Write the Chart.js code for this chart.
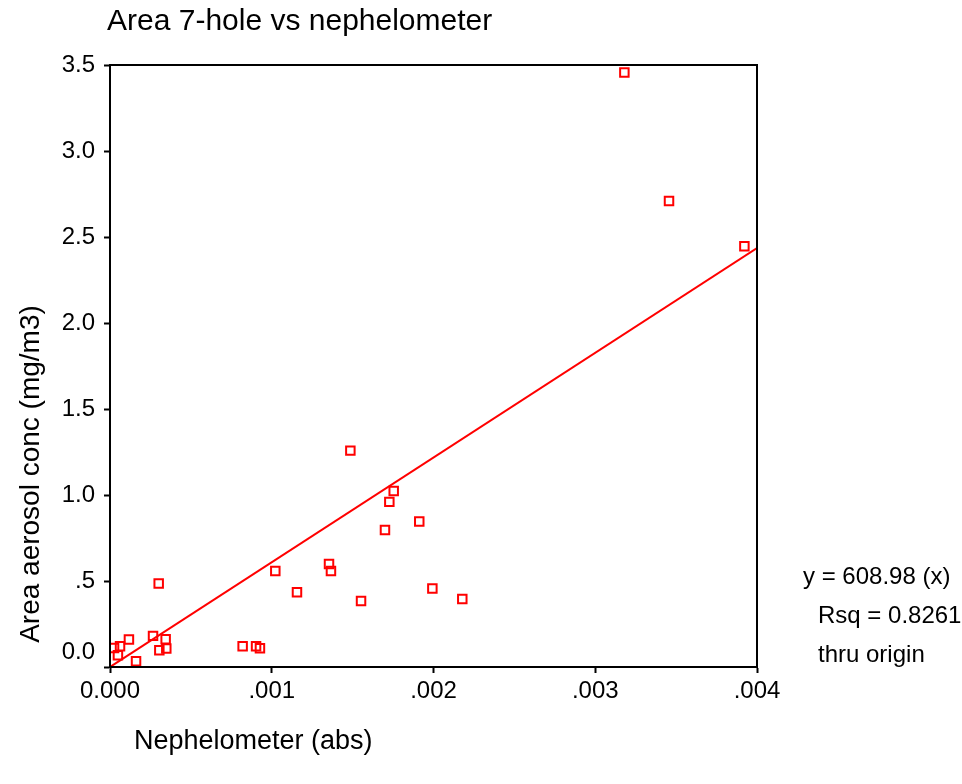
<!DOCTYPE html>
<html>
<head>
<meta charset="utf-8">
<title>Area 7-hole vs nephelometer</title>
<script src="https://cdn.jsdelivr.net/npm/chart.js@4.4.1/dist/chart.umd.min.js"></script>
<style>
  html, body { margin: 0; padding: 0; background: #fff; }
  #wrap { width: 962px; height: 784px; }
</style>
</head>
<body>
<div id="wrap"><canvas id="scatterChart" width="962" height="784"></canvas></div>
<script>
// nephelometer reading (abs) vs area aerosol concentration (mg/m3)
const nephX = [0.000025, 0.000062, 0.000049, 0.000117, 0.000161, 0.000266, 0.000305, 0.000344, 0.000348, 0.000301,
               0.000820, 0.000903, 0.000927, 0.001022, 0.001156, 0.001354, 0.001366, 0.001486, 0.001552, 0.001700,
               0.001727, 0.001754, 0.001912, 0.001993, 0.002178, 0.003180, 0.003456, 0.003922];
const aerosolY = [0.111, 0.121, 0.068, 0.160, 0.034, 0.181, 0.098, 0.161, 0.107, 0.485,
                  0.121, 0.121, 0.109, 0.558, 0.434, 0.599, 0.558, 1.258, 0.384, 0.796,
                  0.960, 1.023, 0.846, 0.457, 0.396, 3.456, 2.709, 2.446];

// fitted line through origin, y = 608.98 (x)
const fitX = [0, 0.004];
const fitY = [0, 2.436];

const xTicks = [0, 0.001, 0.002, 0.003, 0.004];
const xTickLabels = ['0.000', '.001', '.002', '.003', '.004'];
const yTicks = [0, 0.5, 1.0, 1.5, 2.0, 2.5, 3.0, 3.5];
const yTickLabels = ['0.0', '.5', '1.0', '1.5', '2.0', '2.5', '3.0', '3.5'];

const fitNotes = ['y = 608.98 (x)', 'Rsq = 0.8261', 'thru origin'];

const FONT = '"Liberation Sans", Arial, sans-serif';

const textPlugin = {
    id: 'textPlugin',
    afterDraw(chart) {
        const ctx = chart.ctx;
        const a = chart.chartArea;
        ctx.save();
        // frame around plot
        ctx.strokeStyle = '#000';
        ctx.lineWidth = 2;
        ctx.strokeRect(a.left, a.top, a.right - a.left, a.bottom - a.top);

        ctx.fillStyle = '#000';
        ctx.textBaseline = 'middle';
        ctx.textAlign = 'left';
        ctx.font = '30px ' + FONT;
        ctx.fillText('Area 7-hole vs nephelometer', 107, 22);

        ctx.font = '27px ' + FONT;
        ctx.fillText('Nephelometer (abs)', 134, 742);

        ctx.save();
        ctx.translate(31, 474);
        ctx.rotate(-Math.PI / 2);
        ctx.textAlign = 'center';
        ctx.font = '28px ' + FONT;
        ctx.fillText('Area aerosol conc (mg/m3)', 0, 0);
        ctx.restore();

        ctx.font = '24px ' + FONT;
        ctx.fillText(fitNotes[0], 803, 577);
        ctx.fillText(fitNotes[1], 818, 616);
        ctx.fillText(fitNotes[2], 818, 655);
        ctx.restore();
    }
};

const ctx = document.getElementById('scatterChart');
new Chart(ctx, {
    type: 'scatter',
    data: {
        datasets: [{
            label: 'Observed',
            data: nephX.map((x, i) => ({ x: x, y: aerosolY[i] })),
            pointStyle: 'rect',
            pointRadius: 6,
            pointBorderWidth: 2,
            borderColor: '#ff0000',
            backgroundColor: 'rgba(255,255,255,0)',
            order: 1
        }, {
            type: 'line',
            label: 'Linear fit',
            data: fitX.map((x, i) => ({ x: x, y: fitY[i] })),
            borderColor: '#ff0000',
            borderWidth: 2,
            pointRadius: 0,
            fill: false,
            order: 2
        }]
    },
    options: {
        responsive: false,
        animation: false,
        layout: { padding: { left: 0, right: 205, top: 65, bottom: 0 } },
        plugins: {
            legend: { display: false },
            title: { display: false },
            tooltip: { enabled: false }
        },
        scales: {
            x: {
                type: 'linear',
                min: 0,
                max: 0.004,
                afterFit: s => { s.height = 117; },
                afterBuildTicks: s => { s.ticks = xTicks.map(v => ({ value: v })); },
                ticks: {
                    color: '#000',
                    font: { family: FONT, size: 24 },
                    padding: 4,
                    maxRotation: 0,
                    callback: (v) => xTickLabels[xTicks.indexOf(v)]
                },
                grid: { drawOnChartArea: false, tickLength: 6, color: '#000', tickWidth: 2 },
                border: { color: '#000', width: 2 }
            },
            y: {
                type: 'linear',
                min: 0,
                max: 3.5,
                afterFit: s => { s.width = 110; },
                afterBuildTicks: s => { s.ticks = yTicks.map(v => ({ value: v })); },
                ticks: {
                    color: '#000',
                    font: { family: FONT, size: 24 },
                    padding: 9,
                    callback: (v) => {
                        const lbl = yTickLabels[yTicks.indexOf(v)];
                        return v === 0 ? [lbl, ''] : lbl;
                    }
                },
                grid: { drawOnChartArea: false, tickLength: 6, color: '#000', tickWidth: 2 },
                border: { color: '#000', width: 2 }
            }
        }
    },
    plugins: [textPlugin]
});
</script>
</body>
</html>
